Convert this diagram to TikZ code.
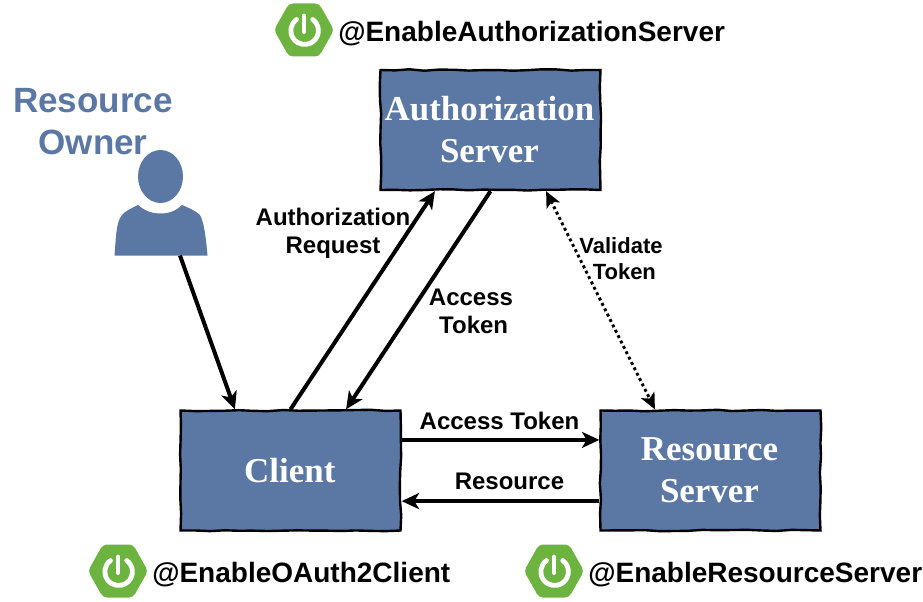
\documentclass[tikz,border=0pt]{standalone}
\usepackage{fontspec}
\setmainfont{Liberation Sans}
\newfontfamily\serifbf{Liberation Serif}[BoldFont={Liberation Serif Bold}]
\usetikzlibrary{arrows.meta,calc,decorations.pathmorphing}
\definecolor{boxblue}{HTML}{5B78A4}
\definecolor{springgreen}{HTML}{6DB33F}
\pgfmathsetseed{7}
\tikzset{
  x=0.75pt,y=-0.75pt,
  serverbox/.style={fill=boxblue,draw=black,line width=1.8pt,minimum width=165pt,minimum height=90pt,inner sep=0pt,
    align=center,text=white,font=\serifbf\bfseries\fontsize{26.2pt}{31.5pt}\selectfont,
    decorate,decoration={random steps,segment length=11pt,amplitude=0.55pt}},
  annotation/.style={font=\bfseries\fontsize{21pt}{25pt}\selectfont,text=black,inner sep=0pt,anchor=base west},
  flowlabel/.style={font=\bfseries\fontsize{18pt}{21pt}\selectfont,text=black,inner sep=0pt,align=center},
  smalllabel/.style={font=\bfseries\fontsize{16.5pt}{19.5pt}\selectfont,text=black,inner sep=0pt,align=center},
  ownerlabel/.style={font=\bfseries\fontsize{26.3pt}{31.5pt}\selectfont,text=boxblue,inner sep=0pt,align=center},
  flow/.style={line width=3pt,-{Stealth[length=13pt,width=12pt,inset=3.5pt]}},
  checkflow/.style={line width=2.2pt,dash pattern=on 2.2pt off 2.3pt,{Stealth[length=12pt,width=11pt,inset=3pt]}-{Stealth[length=12pt,width=11pt,inset=3pt]}},
  springlogo/.pic={
    \fill[springgreen,rounded corners=3pt] (-30,0) -- (-15,-26.5) -- (15,-26.5) -- (30,0) -- (15,26.5) -- (-15,26.5) -- cycle;
    \draw[white,line width=3.6pt,line cap=round] (-7.5,-10.5) arc[start angle=234,end angle=-54,radius=13.8];
    \draw[white,line width=3.6pt,line cap=round] (0,-14) -- (0,1.5);
  }
}
\begin{document}
\begin{tikzpicture}
\useasboundingbox (0,0) rectangle (923,602);
\node[serverbox] (auth) at (490.5,130) {\hspace{-1.5pt}Authorization\\\hspace{-1.5pt}Server};
\node[serverbox] (client) at (290.5,470.5) {\hspace{-1pt}Client};
\node[serverbox] (rs) at (710.5,470.5) {\hspace{-1.5pt}Resource\\\hspace{-1.5pt}Server};

% person
\fill[boxblue] (160.5,176.5) ellipse[x radius=22.5,y radius=26.5];
\fill[boxblue] (114.5,255.5) .. controls (116,238) and (116,222) .. (122,215)
  .. controls (125,211) and (132,208) .. (138,205)
  .. controls (145,211) and (152,213.5) .. (160.5,213.5)
  .. controls (169,213.5) and (176,211) .. (182,205)
  .. controls (189,208) and (196,211) .. (200,215)
  .. controls (204,222) and (206,238) .. (207.5,255.5) -- cycle;
\coordinate (owner) at (180,255.5);

\node[ownerlabel] (ownertext) at (93,122) {Resource\\Owner};

\pic at (304,30) {springlogo};
\pic at (118,571) {springlogo};
\pic at (554,571) {springlogo};
\node[annotation] (a1) at (338,42) {@EnableAuthorizationServer};
\node[annotation] (a2) at (152,582) {@EnableOAuth2Client};
\node[annotation] (a3) at (588,582) {@EnableResourceServer};

\draw[flow] (owner) -- ($(client.north west)!0.25!(client.north east)$);
\draw[flow] (client.north) -- ($(auth.south west)!0.25!(auth.south east)$);
\draw[flow] (auth.south) -- ($(client.north west)!0.75!(client.north east)$);
\draw[checkflow] ($(auth.south west)!0.75!(auth.south east)$) -- ($(rs.north west)!0.25!(rs.north east)$);
\draw[flow] ($(client.north east)!0.25!(client.south east)$) -- ($(rs.north west)!0.25!(rs.south west)$);
\draw[flow] ($(rs.north west)!0.75!(rs.south west)$) -- ($(client.north east)!0.75!(client.south east)$);

\node[flowlabel] (l1) at (333,233) {Authorization\\Request};
\node[flowlabel] (l2) at (471,311) {Access\\\hspace{4pt}Token};
\node[smalllabel] (l3) at (621,259) {Validate\\\hspace{5pt}Token};
\node[flowlabel] (l4) at (499.5,421) {Access Token};
\node[flowlabel] (l5) at (509.5,481) {Resource};
\end{tikzpicture}
\end{document}
